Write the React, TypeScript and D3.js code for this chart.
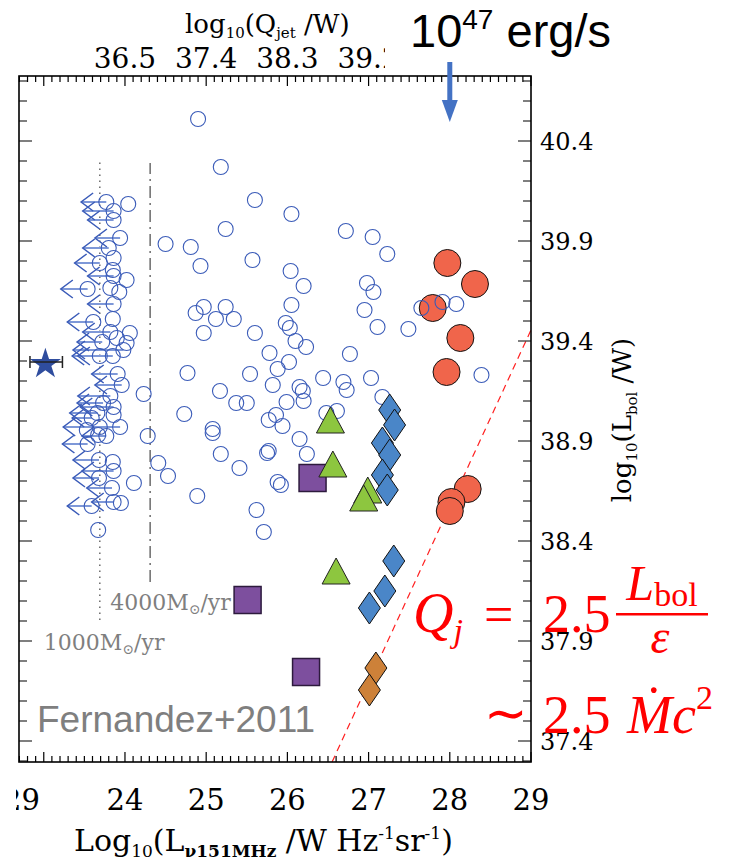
import { useEffect, useRef } from "react"
import * as d3 from "d3"

// radio galaxies with both measurements: [log L151MHz, log Lbol]
const openCircles: [number, number][] = [
  [24.90, 40.51], [25.18, 40.27], [25.60, 40.105], [26.05, 40.035], [25.24, 39.96], [26.72, 39.95],
  [27.05, 39.92], [24.50, 39.885], [24.81, 39.87], [27.23, 39.835], [24.93, 39.775], [25.57, 39.805],
  [26.04, 39.75], [26.20, 39.675], [26.98, 39.69], [27.06, 39.645], [24.97, 39.57], [24.87, 39.54],
  [25.24, 39.57], [25.12, 39.51], [25.34, 39.51], [26.05, 39.58], [25.98, 39.49], [26.03, 39.465],
  [26.95, 39.555], [27.11, 39.47], [27.49, 39.46], [27.65, 39.565], [27.91, 39.595], [28.08, 39.585],
  [24.97, 39.44], [25.60, 39.44], [26.10, 39.40], [26.23, 39.37], [25.78, 39.34], [26.77, 39.335],
  [26.02, 39.295], [25.88, 39.26], [25.54, 39.235], [26.44, 39.215], [25.82, 39.18], [26.15, 39.17],
  [26.19, 39.15], [26.20, 39.10], [26.69, 39.195], [26.73, 39.155], [27.03, 39.215], [28.39, 39.23],
  [27.17, 39.12], [25.17, 39.15], [25.37, 39.09], [25.50, 39.09], [25.99, 39.095], [25.86, 39.03],
  [25.77, 39.005], [25.94, 38.975], [25.08, 38.96], [25.08, 38.94], [26.48, 39.04], [26.61, 39.05],
  [26.15, 38.91], [25.18, 38.835], [25.75, 38.84], [25.77, 38.85], [26.24, 38.835], [25.41, 38.765],
  [25.88, 38.695], [25.92, 38.68], [24.89, 38.625], [25.62, 38.555], [25.71, 38.445], [24.77, 39.24],
  [24.23, 39.135], [24.73, 39.035], [24.28, 38.925], [24.41, 38.79], [24.53, 38.725], [24.11, 38.69],
]

// left column, no arrow
const limitCircles: [number, number][] = [
  [24.04, 40.085], [23.86, 39.815], [23.85, 39.755], [24.02, 39.705], [23.82, 39.665], [23.93, 39.645],
  [23.85, 39.51], [24.06, 39.44], [23.90, 39.415], [24.02, 39.39], [23.69, 38.97], [23.67, 38.93],
  [23.85, 38.795], [23.95, 38.59], [23.67, 38.455], [23.86, 39.03], [23.53, 38.955],
]

// upper limits: [x, y, arrow tip x]
const upperLimits: [number, number, number][] = [
  [23.77, 40.095, 23.46], [23.86, 40.05, 23.48], [23.86, 40.005, 23.54], [23.94, 39.915, 23.63],
  [23.80, 39.865, 23.48], [23.69, 39.79, 23.38], [23.86, 39.725, 23.54], [23.54, 39.66, 23.21],
  [23.86, 39.585, 23.54], [23.61, 39.495, 23.29], [23.82, 39.445, 23.48], [23.72, 39.395, 23.41],
  [23.98, 39.355, 23.36], [23.85, 39.325, 23.35], [23.69, 39.325, 23.42], [23.91, 39.235, 23.59],
  [23.96, 39.18, 23.63], [23.82, 39.125, 23.42], [23.73, 39.09, 23.41], [23.86, 39.07, 23.45],
  [23.66, 39.04, 23.32], [23.59, 39.015, 23.35], [23.94, 38.97, 23.24], [23.77, 38.925, 23.47],
  [23.54, 38.885, 23.23], [23.68, 38.805, 23.36], [23.86, 38.75, 23.47], [23.68, 38.715, 23.36],
  [23.84, 38.665, 23.53], [23.86, 38.595, 23.59], [23.59, 38.575, 23.29],
]

const redCircles: [number, number][] = [
  [27.97, 39.79], [28.31, 39.685], [27.79, 39.565], [28.13, 39.415], [27.96, 39.245],
  [28.22, 38.66], [28.02, 38.595], [28.0, 38.55],
]
const blueDiamonds: [number, number][] = [
  [27.26, 39.055], [27.32, 38.98], [27.17, 38.89], [27.26, 38.83], [27.17, 38.73], [27.23, 38.655],
  [27.31, 38.30], [27.20, 38.15], [27.01, 38.065],
]
const orangeDiamonds: [number, number][] = [[27.09, 37.765], [27.01, 37.655]]
const greenTriangles: [number, number][] = [
  [26.53, 38.995], [26.56, 38.775], [26.99, 38.645], [26.94, 38.605], [26.60, 38.24],
]
const purpleSquares: [number, number][] = [[26.31, 38.715], [25.51, 38.105], [26.23, 37.745]]

const starPoint = { x: 23.02, y: 39.295, xLo: 22.83, xHi: 23.23 }

const sfrLines = [
  { x: 23.69, y0: 38.005, y1: 40.305, dash: "1.5,4.5", label: "1000", labelY: 37.855, labelDx: -56 },
  { x: 24.31, y0: 38.195, y1: 40.29, dash: "12,5,2,5", label: "4000", labelY: 38.055, labelDx: -40 },
]

const qjetLine: [number, number][] = [[26.55, 37.295], [29.0, 39.455]]

const xDomain = [22.695, 29.0]
const yDomain = [37.295, 40.725]
const bottomTicks = [24, 25, 26, 27, 28, 29]
const bottomLabels = ["24", "25", "26", "27", "28", "29"]
const topTicks = [24, 25, 26, 27]
const topLabels = ["36.5", "37.4", "38.3", "39.2"]
const rightTicks = [40.4, 39.9, 39.4, 38.9, 38.4, 37.9, 37.4]
const arrowX = 28

const blue = "#3a5bb8"
const serif = "DejaVu Serif"

export default function App() {
  const svgRef = useRef<SVGSVGElement>(null)

  useEffect(() => {
    if (!svgRef.current) return
    const svg = d3.select(svgRef.current)
    svg.selectAll("*").remove()

    const margin = { top: 76, right: 198, bottom: 101, left: 19 }
    const width = 729
    const height = 863
    const x = d3.scaleLinear().domain(xDomain).range([margin.left, width - margin.right])
    const y = d3.scaleLinear().domain(yDomain).range([height - margin.bottom, margin.top])
    const [x0, x1] = x.range()
    const [yb, yt] = y.range()

    const defs = svg.append("defs")
    defs.append("clipPath").attr("id", "leftclip").append("rect").attr("x", 16).attr("y", 0).attr("width", 100).attr("height", height)
    defs.append("clipPath").attr("id", "topclip").append("rect").attr("x", 0).attr("y", 0).attr("width", 385).attr("height", 100)

    // SFR reference lines
    sfrLines.forEach((s) => {
      svg.append("line")
        .attr("x1", x(s.x)).attr("x2", x(s.x))
        .attr("y1", y(s.y0)).attr("y2", y(s.y1))
        .attr("stroke", "#6b6b6b").attr("stroke-width", 1.5)
        .attr("stroke-dasharray", s.dash)
      const t = svg.append("text")
        .attr("x", x(s.x) + s.labelDx).attr("y", y(s.labelY))
        .attr("font-family", serif).attr("font-size", 22).attr("fill", "#7f7f7f")
      t.append("tspan").text(s.label + "M")
      t.append("tspan").attr("font-size", 14).attr("dy", 4).text("⊙")
      t.append("tspan").attr("dy", -4).text("/yr")
    })

    // jet power line
    svg.append("line")
      .attr("x1", x(qjetLine[0][0])).attr("y1", y(qjetLine[0][1]))
      .attr("x2", x(qjetLine[1][0])).attr("y2", y(qjetLine[1][1]))
      .attr("stroke", "#ff2020").attr("stroke-width", 1.2)
      .attr("stroke-dasharray", "7,5")

    // red filled circles
    svg.selectAll(".red")
      .data(redCircles)
      .join("circle")
      .attr("cx", (d) => x(d[0])).attr("cy", (d) => y(d[1])).attr("r", 13.5)
      .attr("fill", "#f0654b").attr("stroke", "#111").attr("stroke-width", 1)

    // arrow shafts
    svg.selectAll(".shaft")
      .data(upperLimits)
      .join("line")
      .attr("x1", (d) => x(d[0])).attr("x2", (d) => x(d[2]))
      .attr("y1", (d) => y(d[1])).attr("y2", (d) => y(d[1]))
      .attr("stroke", "#7e98d8").attr("stroke-width", 2)

    svg.selectAll(".head")
      .data(upperLimits)
      .join("path")
      .attr("d", (d) => {
        const tx = x(d[2])
        const ty = y(d[1])
        return `M${tx + 12},${ty - 9}L${tx},${ty}L${tx + 12},${ty + 9}`
      })
      .attr("fill", "none").attr("stroke", blue).attr("stroke-width", 1.5)

    // open circles
    const allOpen = [...openCircles, ...limitCircles, ...upperLimits.map((d) => [d[0], d[1]] as [number, number])]
    svg.selectAll(".open")
      .data(allOpen)
      .join("circle")
      .attr("cx", (d) => x(d[0])).attr("cy", (d) => y(d[1])).attr("r", 7.5)
      .attr("fill", "none").attr("stroke", blue).attr("stroke-width", 1.1)

    // star with error bar
    svg.append("path")
      .attr("d", d3.symbol(d3.symbolStar).size(300)())
      .attr("transform", `translate(${x(starPoint.x)},${y(starPoint.y) + 2})`)
      .attr("fill", "#2f4d9e")
    const sy = y(starPoint.y)
    svg.append("path")
      .attr("d", `M${x(starPoint.xLo)},${sy}H${x(starPoint.xHi)}M${x(starPoint.xLo)},${sy - 6}V${sy + 6}M${x(starPoint.xHi)},${sy - 6}V${sy + 6}`)
      .attr("stroke", "#222").attr("stroke-width", 1.5).attr("fill", "none")

    // squares
    svg.selectAll(".sq")
      .data(purpleSquares)
      .join("rect")
      .attr("x", (d) => x(d[0]) - 13.5).attr("y", (d) => y(d[1]) - 13.5)
      .attr("width", 27).attr("height", 27)
      .attr("fill", "#7d4f9e").attr("stroke", "#2d1a3d").attr("stroke-width", 1.5)

    // triangles
    svg.selectAll(".tri")
      .data(greenTriangles)
      .join("path")
      .attr("d", (d) => {
        const cx = x(d[0])
        const cy = y(d[1])
        return `M${cx},${cy - 15}L${cx + 14},${cy + 11}L${cx - 14},${cy + 11}Z`
      })
      .attr("fill", "#8dc63f").attr("stroke", "#222").attr("stroke-width", 1)

    // diamonds
    const diamond = (d: [number, number]) => {
      const cx = x(d[0])
      const cy = y(d[1])
      return `M${cx},${cy - 16}L${cx + 11},${cy}L${cx},${cy + 16}L${cx - 11},${cy}Z`
    }
    svg.selectAll(".bd")
      .data(blueDiamonds)
      .join("path")
      .attr("d", diamond)
      .attr("fill", "#4a86c8").attr("stroke", "#111").attr("stroke-width", 1)
    svg.selectAll(".od")
      .data(orangeDiamonds)
      .join("path")
      .attr("d", diamond)
      .attr("fill", "#cd8139").attr("stroke", "#111").attr("stroke-width", 1)

    // frame and ticks
    svg.append("rect")
      .attr("x", x0).attr("y", yt).attr("width", x1 - x0).attr("height", yb - yt)
      .attr("fill", "none").attr("stroke", "#000").attr("stroke-width", 1.6)

    const xMinor = d3.range(227, 291).map((d) => d / 10)
    const isMajorX = (d: number) => Math.abs(d - Math.round(d)) < 1e-6
    svg.selectAll(".xt")
      .data(xMinor)
      .join("path")
      .attr("d", (d) => {
        const l = isMajorX(d) ? 10 : 6
        return `M${x(d)},${yb}v${-l}M${x(d)},${yt}v${l}`
      })
      .attr("stroke", "#000").attr("stroke-width", 1.2)

    const yMinor = d3.range(373, 408).map((d) => d / 10)
    const isMajorY = (d: number) => Math.round(d * 10 - 374) % 5 === 0
    svg.selectAll(".yt")
      .data(yMinor)
      .join("path")
      .attr("d", (d) => {
        const l = isMajorY(d) ? 13 : 8
        return `M${x0},${y(d)}h${l}M${x1},${y(d)}h${-l}`
      })
      .attr("stroke", "#000").attr("stroke-width", 1.2)

    // bottom tick labels
    svg.selectAll(".bl")
      .data(bottomTicks)
      .join("text")
      .attr("x", (d) => x(d)).attr("y", 810)
      .attr("text-anchor", "middle")
      .attr("font-family", serif).attr("font-size", 29)
      .text((d, i) => bottomLabels[i])
    svg.append("text")
      .attr("x", 40).attr("y", 810)
      .attr("text-anchor", "end")
      .attr("clip-path", "url(#leftclip)")
      .attr("font-family", serif).attr("font-size", 29)
      .text("29")

    // top tick labels
    svg.append("g").attr("clip-path", "url(#topclip)")
      .selectAll("text")
      .data(topTicks)
      .join("text")
      .attr("x", (d) => x(d)).attr("y", 68)
      .attr("text-anchor", "middle")
      .attr("font-family", serif).attr("font-size", 28)
      .text((d, i) => topLabels[i])

    // right tick labels
    svg.selectAll(".rl")
      .data(rightTicks)
      .join("text")
      .attr("x", 540).attr("y", (d) => y(d) + 9)
      .attr("font-family", serif).attr("font-size", 24)
      .text((d) => d.toFixed(1))

    // axis titles
    const bt = svg.append("text")
      .attr("x", 74).attr("y", 851)
      .attr("font-family", serif).attr("font-size", 30)
    bt.append("tspan").text("Log")
    bt.append("tspan").attr("font-size", 17).attr("dy", 6).text("10")
    bt.append("tspan").attr("dy", -6).text("(L")
    bt.append("tspan").attr("font-size", 17).attr("dy", 6).attr("font-weight", "bold").text("ν151MHz")
    bt.append("tspan").attr("dy", -6).text(" /W Hz")
    bt.append("tspan").attr("font-size", 17).attr("dy", -12).text("-1")
    bt.append("tspan").attr("dy", 12).text("sr")
    bt.append("tspan").attr("font-size", 17).attr("dy", -12).text("-1")
    bt.append("tspan").attr("dy", 12).text(")")

    const tt = svg.append("text")
      .attr("x", 185).attr("y", 33)
      .attr("font-family", serif).attr("font-size", 26)
    tt.append("tspan").text("log")
    tt.append("tspan").attr("font-size", 15).attr("dy", 5).text("10")
    tt.append("tspan").attr("dy", -5).text("(Q")
    tt.append("tspan").attr("font-size", 15).attr("dy", 5).text("jet")
    tt.append("tspan").attr("dy", -5).text(" /W)")

    const rt = svg.append("text")
      .attr("transform", `translate(631,420) rotate(-90)`)
      .attr("text-anchor", "middle")
      .attr("font-family", serif).attr("font-size", 26)
    rt.append("tspan").text("log")
    rt.append("tspan").attr("font-size", 15).attr("dy", 6).text("10")
    rt.append("tspan").attr("dy", -6).text("(L")
    rt.append("tspan").attr("font-size", 15).attr("dy", 6).text("bol")
    rt.append("tspan").attr("dy", -6).text(" /W)")

    // 10^47 erg/s marker
    const ax = x(arrowX)
    svg.append("rect")
      .attr("x", ax - 2.5).attr("y", 62).attr("width", 5).attr("height", 40)
      .attr("fill", "#4472c4")
    svg.append("path")
      .attr("d", `M${ax - 8},${100}L${ax + 8},${100}L${ax},${122}Z`)
      .attr("fill", "#4472c4")
    const et = svg.append("text")
      .attr("x", 410).attr("y", 47)
      .attr("font-family", "Liberation Sans").attr("font-size", 47)
    et.append("tspan").text("10")
    et.append("tspan").attr("font-size", 28).attr("dy", -18).text("47")
    et.append("tspan").attr("dy", 18).text(" erg/s")

    // Fernandez+2011
    svg.append("text")
      .attr("x", 37).attr("y", 732)
      .attr("font-family", "Liberation Sans").attr("font-size", 37)
      .attr("fill", "#7f7f7f")
      .text("Fernandez+2011")

    // equation
    const red = "#ff0000"
    const eq = svg.append("g").attr("fill", red).attr("font-family", "Liberation Serif")
    const q = eq.append("text").attr("x", 413).attr("y", 632).attr("font-size", 56)
    q.append("tspan").attr("font-style", "italic").text("Q")
    q.append("tspan").attr("font-style", "italic").attr("font-size", 34).attr("dy", 10).text("j")
    eq.append("text").attr("x", 484).attr("y", 632).attr("font-size", 52).text("=")
    eq.append("text").attr("x", 543).attr("y", 632).attr("font-size", 54).text("2.5")
    const num = eq.append("text").attr("x", 662).attr("y", 600).attr("text-anchor", "middle").attr("font-size", 50)
    num.append("tspan").attr("font-style", "italic").text("L")
    num.append("tspan").attr("font-size", 34).attr("dy", 6).text("bol")
    eq.append("rect").attr("x", 616).attr("y", 613).attr("width", 92).attr("height", 2.5)
    eq.append("text").attr("x", 660).attr("y", 653).attr("text-anchor", "middle").attr("font-size", 48).attr("font-style", "italic").text("ε")
    eq.append("text").attr("x", 484).attr("y", 731).attr("font-size", 52).text("∼")
    eq.append("text").attr("x", 543).attr("y", 733).attr("font-size", 54).text("2.5")
    const mc = eq.append("text").attr("x", 627).attr("y", 733).attr("font-size", 54).attr("font-style", "italic")
    mc.append("tspan").text("Ṁc")
    mc.append("tspan").attr("font-size", 34).attr("dy", -24).attr("font-style", "normal").text("2")
  }, [])

  return (
    <svg
      ref={svgRef}
      width={729}
      height={863}
      style={{ position: "absolute", left: 0, top: 0, background: "#fff" }}
    />
  )
}
